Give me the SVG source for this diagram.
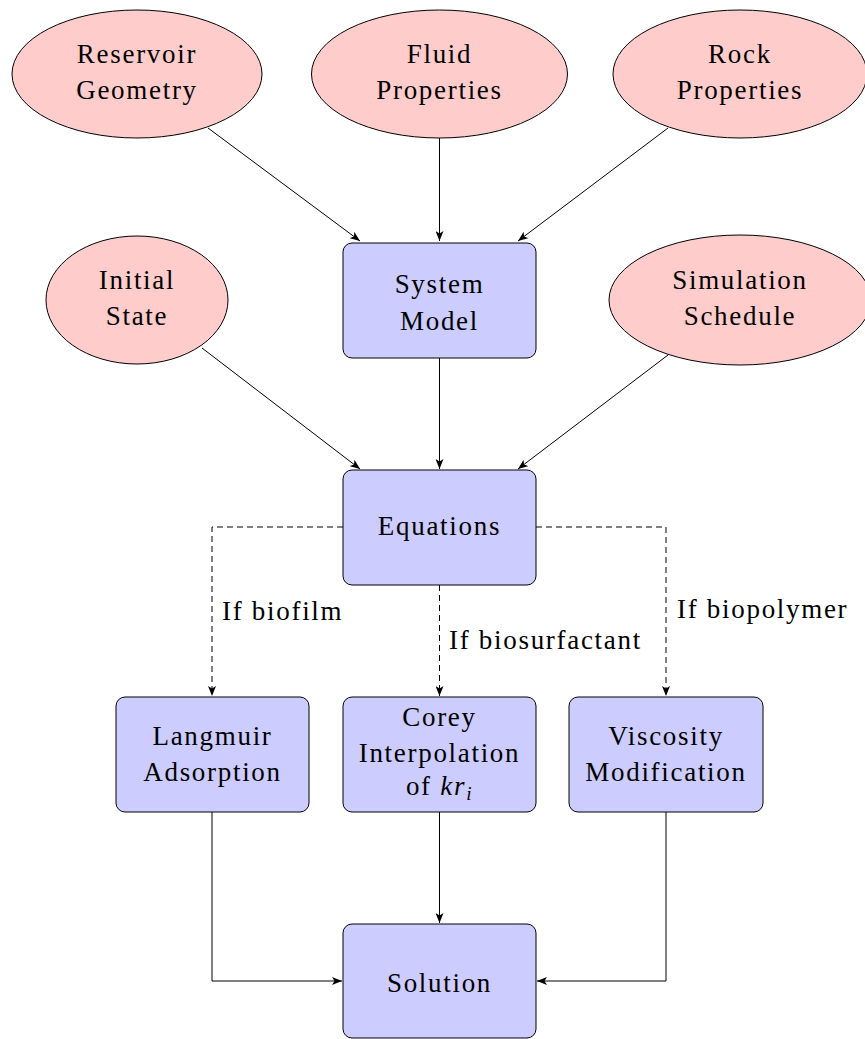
<svg xmlns="http://www.w3.org/2000/svg" width="865" height="1039" viewBox="0 0 865 1039">
<defs>
<marker id="arr" viewBox="0 0 10 8" refX="10" refY="4" markerWidth="10" markerHeight="8" markerUnits="userSpaceOnUse" orient="auto">
<path d="M0,0 L10,4 L0,8 L2.5,4 Z" fill="#000"/>
</marker>
<style>
.ell{fill:#ffcccc;stroke:#000;stroke-width:1}
.box{fill:#ccccff;stroke:#000;stroke-width:1}
.t{font-size:27px;fill:#000;text-anchor:middle;letter-spacing:1.7px}
.lbl{font-size:27px;fill:#000;letter-spacing:1.7px}
.c{fill:none;stroke:#000;stroke-width:1}
.d{fill:none;stroke:#000;stroke-width:1;stroke-dasharray:6,4}
</style>
</defs>
<rect width="865" height="1039" fill="#fff"/>
<g id="connectors" font-family="'Liberation Serif', serif">
<line class="c" x1="208" y1="128" x2="360" y2="241" marker-end="url(#arr)"/>
<line class="c" x1="439.5" y1="138" x2="439.5" y2="241" marker-end="url(#arr)"/>
<line class="c" x1="668" y1="128" x2="518" y2="241" marker-end="url(#arr)"/>
<line class="c" x1="202" y1="348" x2="360" y2="469" marker-end="url(#arr)"/>
<line class="c" x1="439.5" y1="358" x2="439.5" y2="469" marker-end="url(#arr)"/>
<line class="c" x1="668" y1="355" x2="518" y2="469" marker-end="url(#arr)"/>
<polyline class="d" points="343,527 212,527 212,696" marker-end="url(#arr)"/>
<line class="d" x1="439.5" y1="585" x2="439.5" y2="696" marker-end="url(#arr)"/>
<polyline class="d" points="536,527 666,527 666,696" marker-end="url(#arr)"/>
<polyline class="c" points="212,812 212,981 342,981" marker-end="url(#arr)"/>
<line class="c" x1="439.5" y1="812" x2="439.5" y2="923" marker-end="url(#arr)"/>
<polyline class="c" points="666,812 666,981 537,981" marker-end="url(#arr)"/>
<text class="lbl" x="222" y="620">If biofilm</text>
<text class="lbl" x="449" y="649">If biosurfactant</text>
<text class="lbl" x="677" y="618">If biopolymer</text>
</g>
<g id="nodes" font-family="'Liberation Serif', serif">
<g id="reservoir-geometry">
<ellipse class="ell" cx="137" cy="74" rx="125" ry="64"/>
<text class="t" x="137" y="63">Reservoir</text>
<text class="t" x="137" y="99">Geometry</text>
</g>
<g id="fluid-properties">
<ellipse class="ell" cx="439.5" cy="74" rx="128" ry="64"/>
<text class="t" x="439.5" y="63">Fluid</text>
<text class="t" x="439.5" y="99">Properties</text>
</g>
<g id="rock-properties">
<ellipse class="ell" cx="740" cy="74" rx="127" ry="64"/>
<text class="t" x="740" y="63">Rock</text>
<text class="t" x="740" y="99">Properties</text>
</g>
<g id="system-model">
<rect class="box" x="343" y="243" width="193" height="115" rx="9"/>
<text class="t" x="439.5" y="293">System</text>
<text class="t" x="439.5" y="330">Model</text>
</g>
<g id="initial-state">
<ellipse class="ell" cx="137" cy="300" rx="91" ry="64"/>
<text class="t" x="137" y="289">Initial</text>
<text class="t" x="137" y="325">State</text>
</g>
<g id="simulation-schedule">
<ellipse class="ell" cx="740" cy="300" rx="131" ry="65"/>
<text class="t" x="740" y="289">Simulation</text>
<text class="t" x="740" y="325">Schedule</text>
</g>
<g id="equations">
<rect class="box" x="343" y="470" width="193" height="115" rx="9"/>
<text class="t" x="439.5" y="535">Equations</text>
</g>
<g id="langmuir-adsorption">
<rect class="box" x="116" y="697" width="193" height="115" rx="9"/>
<text class="t" x="212.5" y="745">Langmuir</text>
<text class="t" x="212.5" y="781">Adsorption</text>
</g>
<g id="corey-interpolation">
<rect class="box" x="343" y="697" width="193" height="115" rx="9"/>
<text class="t" x="439.5" y="726">Corey</text>
<text class="t" x="439.5" y="762">Interpolation</text>
<text class="t" x="439.5" y="795">of <tspan font-style="italic">kr</tspan><tspan font-style="italic" font-size="19px" dy="5">i</tspan></text>
</g>
<g id="viscosity-modification">
<rect class="box" x="569" y="697" width="194" height="115" rx="9"/>
<text class="t" x="666" y="745">Viscosity</text>
<text class="t" x="666" y="781">Modification</text>
</g>
<g id="solution">
<rect class="box" x="343" y="924" width="193" height="114" rx="9"/>
<text class="t" x="439.5" y="992">Solution</text>
</g>
</g>
</svg>
